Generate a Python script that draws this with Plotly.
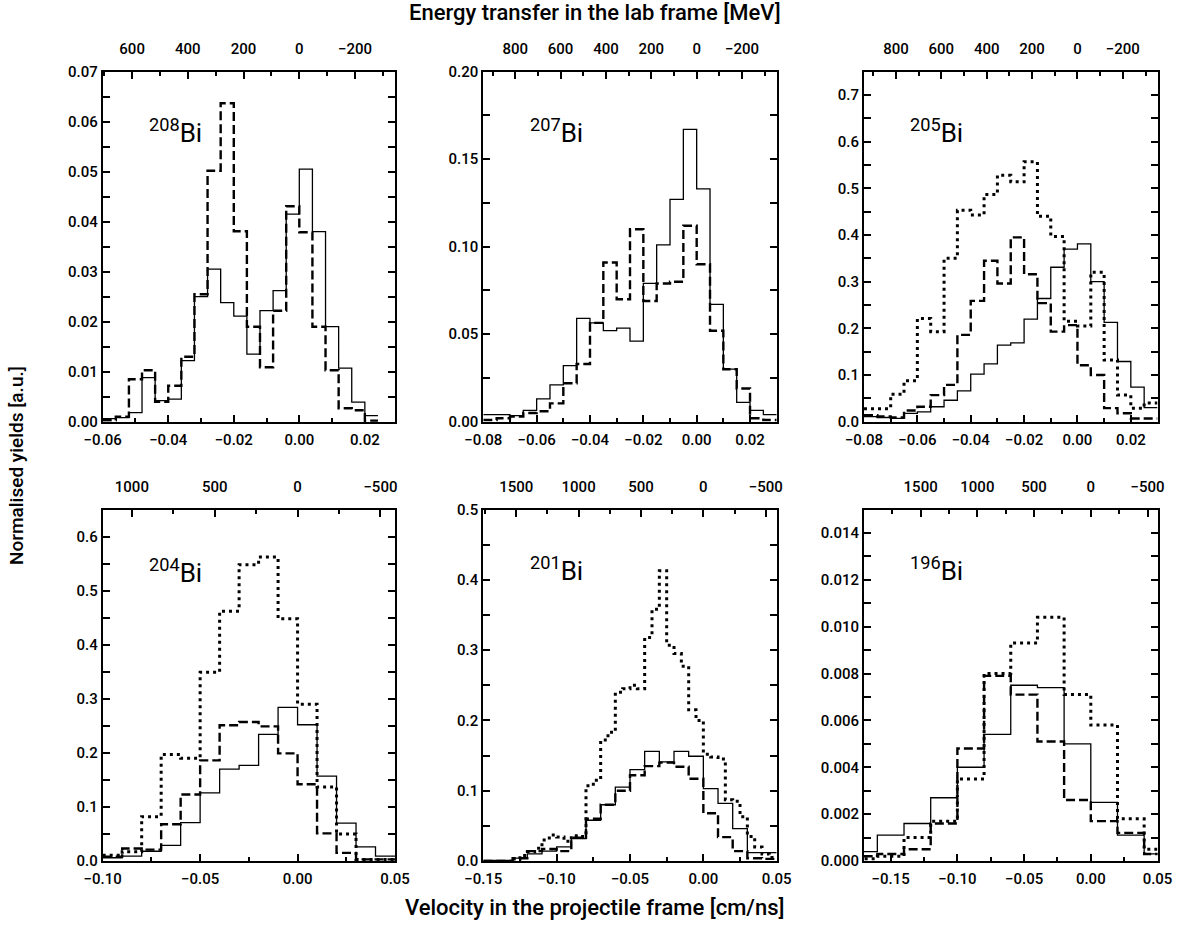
import plotly.graph_objects as go

# ---------------- data ----------------
# 208Bi : bins of 0.004 cm/ns
edges_208 = [-0.060, -0.056, -0.052, -0.048, -0.044, -0.040, -0.036, -0.032, -0.028, -0.024, -0.020,
             -0.016, -0.012, -0.008, -0.004, 0.000, 0.004, 0.008, 0.012, 0.016, 0.020, 0.024]
solid_208 = [0.0006, 0.0008, 0.0018, 0.0088, 0.0042, 0.0045, 0.0122, 0.0250, 0.0305, 0.0238, 0.0211,
             0.0135, 0.0222, 0.0262, 0.0415, 0.0505, 0.0380, 0.0190, 0.0107, 0.0039, 0.0012]
dashed_208 = [0.0003, 0.0010, 0.0085, 0.0103, 0.0040, 0.0072, 0.0130, 0.0255, 0.0502, 0.0637, 0.0381,
              0.0190, 0.0109, 0.0222, 0.0431, 0.0379, 0.0190, 0.0103, 0.0027, 0.0023, 0.0002]

# 207Bi and 205Bi : bins of 0.005 cm/ns
edges_207 = [-0.080, -0.075, -0.070, -0.065, -0.060, -0.055, -0.050, -0.045, -0.040, -0.035, -0.030, -0.025,
             -0.020, -0.015, -0.010, -0.005, 0.000, 0.005, 0.010, 0.015, 0.020, 0.025, 0.030]
solid_207 = [0.004, 0.004, 0.0035, 0.0065, 0.013, 0.021, 0.032, 0.059, 0.0565, 0.052, 0.0535, 0.046,
             0.079, 0.101, 0.127, 0.167, 0.133, 0.067, 0.030, 0.011, 0.0065, 0.004]
dashed_207 = [0.001, 0.002, 0.003, 0.005, 0.006, 0.0105, 0.022, 0.033, 0.0565, 0.091, 0.070, 0.110,
              0.069, 0.079, 0.080, 0.112, 0.090, 0.052, 0.030, 0.019, 0.002, 0.001]

edges_205 = edges_207
solid_205 = [0.011, 0.009, 0.007, 0.018, 0.021, 0.032, 0.046, 0.066, 0.102, 0.124, 0.164, 0.169,
             0.220, 0.264, 0.331, 0.370, 0.381, 0.300, 0.213, 0.129, 0.074, 0.030]
dashed_205 = [0.014, 0.011, 0.009, 0.024, 0.032, 0.057, 0.079, 0.186, 0.259, 0.345, 0.296, 0.395,
              0.316, 0.254, 0.193, 0.207, 0.121, 0.100, 0.029, 0.018, 0.007, 0.007]
dotted_205 = [0.028, 0.028, 0.059, 0.088, 0.221, 0.193, 0.350, 0.453, 0.443, 0.487, 0.528, 0.514,
              0.557, 0.440, 0.397, 0.215, 0.205, 0.320, 0.132, 0.057, 0.029, 0.040]

# 204Bi : bins of 0.01 cm/ns
edges_204 = [-0.10, -0.09, -0.08, -0.07, -0.06, -0.05, -0.04, -0.03, -0.02, -0.01, 0.00, 0.01, 0.02, 0.03, 0.04, 0.05]
solid_204 = [0.006, 0.009, 0.018, 0.029, 0.071, 0.126, 0.170, 0.177, 0.234, 0.284, 0.252, 0.157, 0.070, 0.026, 0.009]
dashed_204 = [0.008, 0.023, 0.021, 0.068, 0.123, 0.186, 0.251, 0.257, 0.249, 0.199, 0.142, 0.051, 0.015, 0.003, 0.003]
dotted_204 = [0.0105, 0.017, 0.082, 0.197, 0.190, 0.349, 0.462, 0.548, 0.562, 0.448, 0.290, 0.137, 0.050, 0.003, 0.003]

# 201Bi : solid/dashed bins of 0.01, dotted bins of 0.005
edges_201 = [-0.15, -0.14, -0.13, -0.12, -0.11, -0.10, -0.09, -0.08, -0.07, -0.06, -0.05,
             -0.04, -0.03, -0.02, -0.01, 0.00, 0.01, 0.02, 0.03, 0.04, 0.05]
solid_201 = [0.001, 0.001, 0.004, 0.010, 0.014, 0.020, 0.032, 0.058, 0.080, 0.105,
             0.130, 0.156, 0.141, 0.156, 0.149, 0.103, 0.082, 0.046, 0.012, 0.012]
dashed_201 = [0.000, 0.000, 0.004, 0.014, 0.017, 0.014, 0.033, 0.060, 0.080, 0.100,
              0.122, 0.135, 0.140, 0.134, 0.117, 0.068, 0.034, 0.014, 0.004, 0.003]
edges_201_dot = [-0.130, -0.125, -0.120, -0.115, -0.110, -0.105, -0.100, -0.095, -0.090, -0.085,
                 -0.080, -0.075, -0.070, -0.065, -0.060, -0.055, -0.050, -0.045, -0.040, -0.035,
                 -0.030, -0.025, -0.020, -0.015, -0.010, -0.005, 0.000, 0.005, 0.010, 0.015,
                 0.020, 0.025, 0.030, 0.035, 0.040, 0.045, 0.050]
dotted_201 = [0.003, 0.008, 0.013, 0.018, 0.030, 0.037, 0.034, 0.028, 0.036, 0.035,
              0.107, 0.115, 0.172, 0.183, 0.240, 0.245, 0.250, 0.245, 0.318, 0.358,
              0.413, 0.307, 0.295, 0.277, 0.215, 0.200, 0.152, 0.148, 0.145, 0.087,
              0.085, 0.063, 0.035, 0.020, 0.010, 0.005]

# 196Bi : bins of 0.02 cm/ns
edges_196 = [-0.18, -0.16, -0.14, -0.12, -0.10, -0.08, -0.06, -0.04, -0.02, 0.00, 0.02, 0.04, 0.06]
solid_196 = [0.0004, 0.0011, 0.0016, 0.0027, 0.0040, 0.0054, 0.0075, 0.0074, 0.0050, 0.0025, 0.0011, 0.0003]
dashed_196 = [0.0002, 0.0003, 0.0005, 0.0016, 0.0048, 0.0079, 0.0071, 0.0051, 0.0026, 0.0017, 0.0012, 0.0003]
dotted_196 = [0.0001, 0.0002, 0.0010, 0.0017, 0.0035, 0.0080, 0.0093, 0.0104, 0.0071, 0.0058, 0.0018, 0.0005]

labels = ["208", "207", "205", "204", "201", "196"]
x_ranges = [[-0.06, 0.0292], [-0.08, 0.03], [-0.08, 0.03], [-0.10, 0.05], [-0.15, 0.05], [-0.17, 0.05]]
y_ranges = [[0, 0.07], [0, 0.20], [0, 0.75], [0, 0.65], [0, 0.5], [0, 0.015]]
K_MEV = 11760.0  # MeV per (cm/ns), read from the top/bottom axis alignment

# ---------------- styling ----------------
FONT = "Roboto"
W, H = 1189, 932
OFF = 0  # body margin removed by the post script below
col_px = [(102.7, 395.0), (483.3, 776.7), (864.0, 1157.5)]
row_px = [(71.7, 421.7), (509.5, 861.0)]


def px_x(p):
    return (p - OFF) / W


def px_y(p):
    return 1 - (p - OFF) / H


x_dtick = [0.02, 0.02, 0.02, 0.05, 0.05, 0.05]
x_minor = [0.01, 0.01, 0.01, 0.025, 0.025, 0.025]
y_dtick = [0.01, 0.05, 0.1, 0.1, 0.1, 0.002]
y_minor = [0.005, 0.025, 0.05, 0.05, 0.05, 0.001]
y_fmt = [".2f", ".2f", ".1f", ".1f", ".1f", ".3f"]
e_dtick = [200, 200, 200, 500, 500, 500]
e_minor = [100, 100, 100, 250, 250, 250]

SOLID = dict(color="black", width=1.3)
DASHED = dict(color="black", width=2.4, dash="9px,4px")
DOTTED = dict(color="black", width=3.0, dash="3px,4px")

series = [
    [(edges_208, solid_208, SOLID), (edges_208, dashed_208, DASHED)],
    [(edges_207, solid_207, SOLID), (edges_207, dashed_207, DASHED)],
    [(edges_205, solid_205, SOLID), (edges_205, dashed_205, DASHED), (edges_205, dotted_205, DOTTED)],
    [(edges_204, solid_204, SOLID), (edges_204, dashed_204, DASHED), (edges_204, dotted_204, DOTTED)],
    [(edges_201, solid_201, SOLID), (edges_201, dashed_201, DASHED), (edges_201_dot, dotted_201, DOTTED)],
    [(edges_196, solid_196, SOLID), (edges_196, dashed_196, DASHED), (edges_196, dotted_196, DOTTED)],
]

fig = go.Figure()
tickfont = dict(family=FONT, size=15, color="black", weight=500)

for i in range(6):
    r, c = divmod(i, 3)
    n = i + 1
    xa = "x" if n == 1 else f"x{n}"
    ya = "y" if n == 1 else f"y{n}"
    for edges, vals, line in series[i]:
        fig.add_trace(go.Scatter(
            x=edges, y=list(vals) + [vals[-1]], mode="lines", line=line, line_shape="hv",
            xaxis=xa, yaxis=ya, showlegend=False, hoverinfo="skip"))

    x0, x1 = col_px[c]
    yt, yb = row_px[r]
    xdom = [px_x(x0), px_x(x1)]
    ydom = [px_y(yb), px_y(yt)]
    xname = "xaxis" if n == 1 else f"xaxis{n}"
    yname = "yaxis" if n == 1 else f"yaxis{n}"
    ename = f"xaxis{n + 6}"

    fig.layout[xname] = dict(
        domain=xdom, anchor=ya, range=x_ranges[i], showgrid=False, zeroline=False, automargin=False,
        showline=True, linecolor="black", linewidth=2, mirror=True,
        ticks="inside", ticklen=7, tickwidth=1.5, tickcolor="black", ticklabelstandoff=3,
        dtick=x_dtick[i], tick0=0, tickformat=".2f", tickfont=tickfont,
        minor=dict(ticks="inside", ticklen=4, tickwidth=1.5, tickcolor="black", dtick=x_minor[i], tick0=0),
    )
    fig.layout[yname] = dict(
        domain=ydom, anchor=xa, range=y_ranges[i], showgrid=False, zeroline=False, automargin=False,
        showline=True, linecolor="black", linewidth=2, mirror="allticks",
        ticks="inside", ticklen=7, tickwidth=1.5, tickcolor="black",
        dtick=y_dtick[i], tick0=0, tickformat=y_fmt[i], tickfont=tickfont,
        minor=dict(ticks="inside", ticklen=4, tickwidth=1.5, tickcolor="black", dtick=y_minor[i], tick0=0),
    )
    fig.layout[ename] = dict(
        overlaying=xa, anchor=ya, side="top", automargin=False,
        range=[-K_MEV * x_ranges[i][0], -K_MEV * x_ranges[i][1]],
        showgrid=False, zeroline=False, showline=True, linecolor="black", linewidth=2,
        ticks="inside", ticklen=7, tickwidth=1.5, tickcolor="black", ticklabelstandoff=10,
        dtick=e_dtick[i], tick0=0, tickfont=tickfont,
        minor=dict(ticks="inside", ticklen=4, tickwidth=1.5, tickcolor="black", dtick=e_minor[i], tick0=0),
    )
    # empty trace so the energy axis is drawn
    fig.add_trace(go.Scatter(x=[], y=[], xaxis=f"x{n + 6}", yaxis=ya, showlegend=False))

# isotope labels (left edge, bottom of text box)
lab_pos = [(147, 150), (528, 150), (908, 150), (147, 590), (528, 588), (908, 588)]
for (px, py), lab in zip(lab_pos, labels):
    fig.add_annotation(
        x=px_x(px), y=px_y(py), xref="paper", yref="paper", xanchor="left", yanchor="bottom",
        text=f"<sup>{lab}</sup>Bi", showarrow=False, font=dict(family=FONT, size=26, color="black"))

# axis titles
TITLE_FONT = dict(family=FONT, size=22, color="black", weight=500)
fig.add_annotation(x=px_x(595), y=px_y(12), xref="paper", yref="paper", xanchor="center", yanchor="middle",
                   text="Energy transfer in the lab frame [MeV]", showarrow=False, font=TITLE_FONT)
fig.add_annotation(x=px_x(595), y=px_y(907), xref="paper", yref="paper", xanchor="center", yanchor="middle",
                   text="Velocity in the projectile frame [cm/ns]", showarrow=False, font=TITLE_FONT)
fig.add_annotation(x=px_x(16), y=px_y(466), xref="paper", yref="paper", xanchor="center", yanchor="middle",
                   text="Normalised yields [a.u.]", textangle=-90, showarrow=False,
                   font=dict(family=FONT, size=19, color="black", weight=500))

fig.update_layout(width=W, height=H, margin=dict(l=0, r=0, t=0, b=0),
                  paper_bgcolor="white", plot_bgcolor="white", showlegend=False)
fig.write_html("out.html", config={"displayModeBar": False},
               post_script="document.body.style.margin='0px';")
